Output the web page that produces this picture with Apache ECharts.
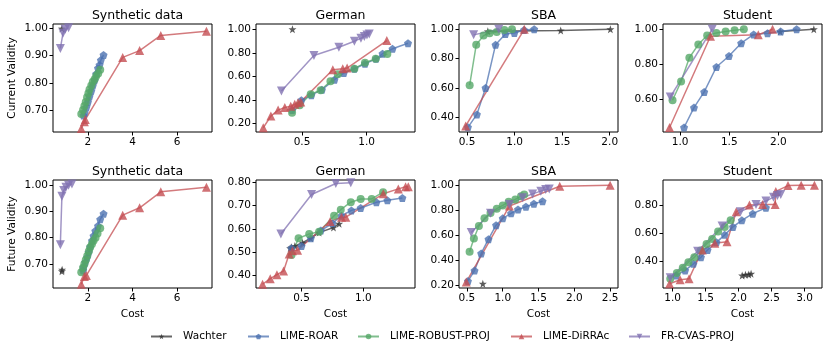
<!DOCTYPE html>
<html>
<head>
<meta charset="utf-8">
<script src="https://cdn.jsdelivr.net/npm/echarts@6/dist/echarts.min.js"></script>
<style>
  html, body { margin: 0; padding: 0; background: #fff; }
  #chart { width: 830px; height: 351px; }
</style>
</head>
<body>
<div id="chart"></div>
<script>
// method names (legend order)
const methods = ['Wachter', 'LIME-ROAR', 'LIME-ROBUST-PROJ', 'LIME-DiRRAc', 'FR-CVAS-PROJ'];

// ---- Synthetic data, current validity
const synCurWachter = [[0.83, 1.0]];
const synCurRoar = [[1.80, 0.68], [1.85, 0.69], [1.93, 0.71], [2.0, 0.73], [2.07, 0.75], [2.15, 0.77], [2.22, 0.79], [2.30, 0.81], [2.37, 0.833], [2.45, 0.854], [2.52, 0.866], [2.58, 0.884], [2.70, 0.903]];
const synCurRobust = [[1.70, 0.685], [1.78, 0.70], [1.84, 0.715], [1.90, 0.73], [1.96, 0.747], [2.02, 0.762], [2.07, 0.776], [2.15, 0.79], [2.22, 0.804], [2.30, 0.813], [2.37, 0.825], [2.46, 0.835], [2.55, 0.848]];
const synCurDirrac = [[1.70, 0.632], [1.84, 0.657], [1.88, 0.665], [3.56, 0.894], [4.32, 0.919], [5.27, 0.975], [7.32, 0.99]];
const synCurCvas = [[0.76, 0.927], [0.88, 0.983], [0.98, 0.998], [1.13, 1.003]];

// ---- German, current validity
const gerCurWachter = [[0.426, 1.0]];
const gerCurRoar = [[0.423, 0.313], [0.495, 0.397], [0.572, 0.44], [0.654, 0.487], [0.751, 0.572], [0.823, 0.628], [0.905, 0.665], [0.987, 0.707], [1.072, 0.749], [1.123, 0.792], [1.2, 0.834], [1.32, 0.882]];
const gerCurRobust = [[0.423, 0.29], [0.482, 0.355], [0.567, 0.448], [0.644, 0.482], [0.72, 0.558], [0.777, 0.617], [0.905, 0.665], [0.987, 0.715], [1.07, 0.749], [1.16, 0.79]];
const gerCurDirrac = [[0.2, 0.163], [0.259, 0.262], [0.315, 0.313], [0.367, 0.335], [0.413, 0.346], [0.444, 0.363], [0.469, 0.375], [0.49, 0.383], [0.738, 0.656], [0.815, 0.665], [0.849, 0.67], [1.156, 0.904]];
const gerCurCvas = [[0.341, 0.476], [0.592, 0.777], [0.785, 0.848], [0.905, 0.899], [0.956, 0.924], [0.982, 0.938], [1.002, 0.952], [1.02, 0.96]];

// ---- SBA, current validity
const sbaCurWachter = [[0.719, 0.986], [1.485, 0.991], [2.007, 1.0]];
const sbaCurRoar = [[0.51, 0.332], [0.604, 0.42], [0.695, 0.6], [0.8, 0.894], [0.904, 0.968], [0.998, 0.975], [1.1, 0.995], [1.206, 1.0]];
const sbaCurRobust = [[0.528, 0.619], [0.597, 0.894], [0.674, 0.957], [0.737, 0.973], [0.813, 0.982], [0.893, 0.995], [0.973, 1.0]];
const sbaCurDirrac = [[0.486, 0.341], [1.102, 1.0]];
const sbaCurCvas = [[0.57, 0.962], [0.834, 1.0]];

// ---- Student, current validity
const stuCurWachter = [[2.017, 0.987], [2.36, 1.0]];
const stuCurRoar = [[1.04, 0.436], [1.141, 0.55], [1.245, 0.64], [1.369, 0.783], [1.497, 0.846], [1.621, 0.92], [1.748, 0.97], [1.889, 0.977], [2.023, 0.987], [2.185, 1.0]];
const stuCurRobust = [[0.923, 0.592], [1.01, 0.70], [1.094, 0.836], [1.185, 0.912], [1.275, 0.964], [1.369, 0.979], [1.463, 0.987], [1.554, 0.994], [1.648, 1.0]];
const stuCurDirrac = [[0.893, 0.436], [1.309, 0.96], [1.795, 0.968], [1.94, 1.0]];
const stuCurCvas = [[0.9, 0.611], [1.326, 1.0]];

// ---- Synthetic data, future validity
const synFutWachter = [[0.83, 0.672], [0.84, 0.678]];
const synFutRoar = [[1.78, 0.675], [1.8, 0.687], [1.88, 0.706], [1.96, 0.725], [2.03, 0.744], [2.1, 0.765], [2.18, 0.788], [2.25, 0.807], [2.33, 0.826], [2.45, 0.845], [2.55, 0.87], [2.7, 0.891]];
const synFutRobust = [[1.7, 0.668], [1.78, 0.685], [1.84, 0.70], [1.9, 0.715], [1.97, 0.731], [2.04, 0.748], [2.1, 0.763], [2.18, 0.776], [2.25, 0.788], [2.34, 0.80], [2.43, 0.816], [2.55, 0.836]];
const synFutDirrac = [[1.7, 0.622], [1.84, 0.652], [1.93, 0.656], [3.56, 0.886], [4.32, 0.914], [5.27, 0.975], [7.32, 0.992]];
const synFutCvas = [[0.76, 0.773], [0.83, 0.958], [0.91, 0.98], [1.01, 0.992], [1.13, 1.0], [1.28, 1.005]];

// ---- German, future validity
const gerFutWachter = [[0.408, 0.517], [0.419, 0.521], [0.446, 0.527], [0.508, 0.541], [0.575, 0.56], [0.642, 0.584], [0.758, 0.606], [0.804, 0.622]];
const gerFutRoar = [[0.419, 0.517], [0.5, 0.527], [0.575, 0.56], [0.656, 0.593], [0.75, 0.624], [0.823, 0.656], [0.903, 0.679], [0.978, 0.689], [1.105, 0.714], [1.194, 0.722], [1.315, 0.732]];
const gerFutRobust = [[0.419, 0.488], [0.476, 0.56], [0.562, 0.578], [0.642, 0.588], [0.763, 0.656], [0.817, 0.682], [0.898, 0.714], [0.978, 0.728], [1.067, 0.728], [1.159, 0.757]];
const gerFutDirrac = [[0.185, 0.363], [0.247, 0.387], [0.301, 0.404], [0.355, 0.42], [0.4, 0.492], [0.427, 0.506], [0.468, 0.509], [0.731, 0.632], [0.823, 0.65], [0.858, 0.65], [1.161, 0.75], [1.282, 0.771], [1.341, 0.78], [1.363, 0.78]];
const gerFutCvas = [[0.333, 0.578], [0.581, 0.747], [0.777, 0.794], [0.898, 0.797]];

// ---- SBA, future validity
const sbaFutWachter = [[0.722, 0.214]];
const sbaFutRoar = [[0.514, 0.235], [0.606, 0.319], [0.699, 0.456], [0.801, 0.57], [0.907, 0.681], [1.0, 0.736], [1.116, 0.776], [1.213, 0.807], [1.324, 0.828], [1.435, 0.852], [1.556, 0.873]];
const sbaFutRobust = [[0.537, 0.47], [0.597, 0.575], [0.667, 0.675], [0.745, 0.736], [0.829, 0.778], [0.917, 0.813], [1.0, 0.839], [1.083, 0.868], [1.176, 0.887], [1.255, 0.913], [1.3, 0.926]];
const sbaFutDirrac = [[0.49, 0.227], [1.093, 0.834], [1.796, 0.992], [2.5, 1.0]];
const sbaFutCvas = [[0.56, 0.623], [0.829, 0.776], [1.093, 0.847], [1.278, 0.9], [1.417, 0.931], [1.532, 0.953], [1.6, 0.966], [1.65, 0.971]];

// ---- Student, future validity
const stuFutWachter = [[2.055, 0.298], [2.105, 0.303], [2.155, 0.305], [2.19, 0.31]];
const stuFutRoar = [[1.055, 0.298], [1.19, 0.334], [1.315, 0.381], [1.43, 0.428], [1.53, 0.48], [1.665, 0.535], [1.79, 0.589], [1.915, 0.646], [2.05, 0.693], [2.215, 0.741], [2.415, 0.783]];
const stuFutRobust = [[0.965, 0.275], [1.065, 0.315], [1.155, 0.353], [1.24, 0.393], [1.33, 0.428], [1.425, 0.476], [1.515, 0.523], [1.6, 0.559], [1.69, 0.613], [1.79, 0.646], [1.88, 0.693]];
const stuFutDirrac = [[0.955, 0.239], [1.115, 0.267], [1.25, 0.275], [1.45, 0.48], [1.64, 0.528], [1.825, 0.54], [1.965, 0.755], [2.165, 0.802], [2.365, 0.807], [2.555, 0.807], [2.565, 0.90], [2.75, 0.942], [2.95, 0.944], [3.15, 0.944]];
const stuFutCvas = [[0.965, 0.282], [1.38, 0.471], [1.75, 0.653], [2.03, 0.755], [2.265, 0.807], [2.415, 0.831], [2.53, 0.859], [2.59, 0.871], [2.64, 0.878]];

// ---- tick labels
const synXTicks = [2, 4, 6];
const gerXTicks = [0.5, 1.0];
const sbaCurXTicks = [0.5, 1.0, 1.5, 2.0];
const sbaFutXTicks = [0.5, 1.0, 1.5, 2.0, 2.5];
const stuCurXTicks = [1.0, 1.5, 2.0];
const stuFutXTicks = [1.0, 1.5, 2.0, 2.5, 3.0];
const synYTicks = [0.7, 0.8, 0.9, 1.0];
const gerCurYTicks = [0.2, 0.4, 0.6, 0.8, 1.0];
const sbaCurYTicks = [0.4, 0.6, 0.8, 1.0];
const stuCurYTicks = [0.6, 0.8, 1.0];
const gerFutYTicks = [0.4, 0.5, 0.6, 0.7, 0.8];
const sbaFutYTicks = [0.2, 0.4, 0.6, 0.8, 1.0];
const stuFutYTicks = [0.4, 0.6, 0.8];

// styling
const colors = ['#333333', '#4c72b0', '#55a868', '#c44e52', '#8172b2'];

function polyPath(n, inner) {
  const pts = [];
  const k = inner ? n * 2 : n;
  for (let i = 0; i < k; i++) {
    const a = -Math.PI / 2 + i * 2 * Math.PI / k;
    const r = inner && i % 2 ? inner : 1;
    pts.push((Math.cos(a) * r).toFixed(3) + ' ' + (Math.sin(a) * r).toFixed(3));
  }
  return 'path://M' + pts.join(' L') + ' Z';
}
const symbols = [polyPath(5, 0.4), polyPath(5), 'circle', 'triangle', 'triangle'];
const symbolRot = [0, 0, 0, 0, 180];
const symbolSizes = [8, 8, 8, 9, 9];

const W = 159, H = 108;
const colLeft = [53, 256, 459, 663];
const rowTop = [24, 180];
const legendLeft = [145, 242, 352, 505, 623];

const panels = [
  { title: 'Synthetic data', row: 0, col: 0, x: [0.43, 7.57], y: [0.619, 1.017], xt: synXTicks, yt: synYTicks, xd: 0, data: [synCurWachter, synCurRoar, synCurRobust, synCurDirrac, synCurCvas] },
  { title: 'German', row: 0, col: 1, x: [0.144, 1.374], y: [0.127, 1.045], xt: gerXTicks, yt: gerCurYTicks, xd: 1, data: [gerCurWachter, gerCurRoar, gerCurRobust, gerCurDirrac, gerCurCvas] },
  { title: 'SBA', row: 0, col: 2, x: [0.416, 2.087], y: [0.30, 1.036], xt: sbaCurXTicks, yt: sbaCurYTicks, xd: 1, data: [sbaCurWachter, sbaCurRoar, sbaCurRobust, sbaCurDirrac, sbaCurCvas] },
  { title: 'Student', row: 0, col: 3, x: [0.826, 2.443], y: [0.41, 1.03], xt: stuCurXTicks, yt: stuCurYTicks, xd: 1, data: [stuCurWachter, stuCurRoar, stuCurRobust, stuCurDirrac, stuCurCvas] },
  { title: 'Synthetic data', row: 1, col: 0, x: [0.43, 7.57], y: [0.608, 1.02], xt: synXTicks, yt: synYTicks, xd: 0, data: [synFutWachter, synFutRoar, synFutRobust, synFutDirrac, synFutCvas] },
  { title: 'German', row: 1, col: 1, x: [0.132, 1.417], y: [0.347, 0.809], xt: gerXTicks, yt: gerFutYTicks, xd: 1, data: [gerFutWachter, gerFutRoar, gerFutRobust, gerFutDirrac, gerFutCvas] },
  { title: 'SBA', row: 1, col: 2, x: [0.389, 2.61], y: [0.18, 1.042], xt: sbaFutXTicks, yt: sbaFutYTicks, xd: 1, data: [sbaFutWachter, sbaFutRoar, sbaFutRobust, sbaFutDirrac, sbaFutCvas] },
  { title: 'Student', row: 1, col: 3, x: [0.855, 3.265], y: [0.208, 0.982], xt: stuFutXTicks, yt: stuFutYTicks, xd: 1, data: [stuFutWachter, stuFutRoar, stuFutRobust, stuFutDirrac, stuFutCvas] }
];

const font = 'DejaVu Sans';
const grid = [], xAxis = [], yAxis = [], title = [], series = [];

panels.forEach((p, i) => {
  const left = colLeft[p.col], top = rowTop[p.row];
  grid.push({ left: left, top: top, width: W, height: H, show: true, borderColor: '#000', borderWidth: 1, backgroundColor: 'transparent' });
  title.push({ text: p.title, left: left + W / 2, top: top - 20, textAlign: 'center',
    textStyle: { fontFamily: font, fontSize: 12.5, fontWeight: 'normal', color: '#000' } });
  xAxis.push({
    type: 'value', gridIndex: i, min: p.x[0], max: p.x[1],
    axisLine: { show: false }, splitLine: { show: false },
    axisTick: { show: true, length: 3.5, lineStyle: { color: '#000' }, customValues: p.xt },
    axisLabel: { customValues: p.xt, color: '#000', fontFamily: font, fontSize: 10.5, margin: 5,
      formatter: v => v.toFixed(p.xd) },
    name: p.row === 1 ? 'Cost' : '', nameLocation: 'middle', nameGap: 21,
    nameTextStyle: { fontFamily: font, fontSize: 10.5, color: '#000' }
  });
  yAxis.push({
    type: 'value', gridIndex: i, min: p.y[0], max: p.y[1],
    axisLine: { show: false }, splitLine: { show: false },
    axisTick: { show: true, length: 3.5, lineStyle: { color: '#000' }, customValues: p.yt },
    axisLabel: { customValues: p.yt, color: '#000', fontFamily: font, fontSize: 10.5, margin: 5,
      formatter: v => v.toFixed(2) },
    name: p.col === 0 ? (p.row === 0 ? 'Current Validity' : 'Future Validity') : '',
    nameLocation: 'middle', nameGap: 35,
    nameTextStyle: { fontFamily: font, fontSize: 10.5, color: '#000' }
  });
  p.data.forEach((d, m) => {
    series.push({
      name: methods[m], type: 'line', xAxisIndex: i, yAxisIndex: i, data: d,
      symbol: symbols[m], symbolSize: symbolSizes[m], symbolRotate: symbolRot[m],
      showSymbol: true, animation: false, clip: false,
      lineStyle: { color: colors[m], width: 1.5, opacity: 0.75 },
      itemStyle: { color: colors[m], opacity: 0.8 }
    });
  });
});

const legend = methods.map((name, m) => ({
  data: [name], left: legendLeft[m], top: 326, itemWidth: 21, itemHeight: 7, itemGap: 0,
  textStyle: { fontFamily: font, fontSize: 10.5, color: '#000', padding: [0, 0, 0, 6] }
}));

const chart = echarts.init(document.getElementById('chart'), null, { renderer: 'canvas' });
chart.setOption({
  backgroundColor: '#fff',
  animation: false,
  title: title,
  grid: grid,
  xAxis: xAxis,
  yAxis: yAxis,
  series: series,
  legend: legend
});
</script>
</body>
</html>
